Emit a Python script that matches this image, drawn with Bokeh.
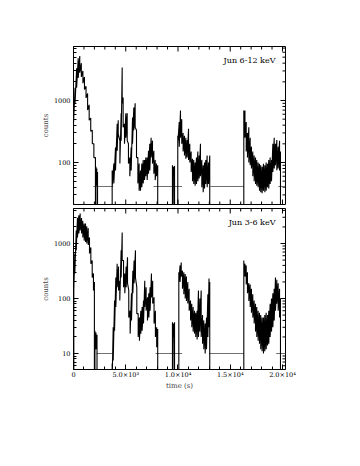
import math
from bokeh.plotting import figure
from bokeh.layouts import column
from bokeh.models import FixedTicker, Label, Range1d, PrintfTickFormatter
from bokeh.embed import file_html
from bokeh.resources import INLINE

# ---------------- data ----------------
X_MAX = 20290
BOTTOM = 1.0          # value below both y ranges (trace dropping to zero)

# upper panel: Jun 6-12 keV
hard_A_t  = [0, 150, 300, 450, 600, 750, 900, 1050, 1200, 1350, 1500, 1650, 1800, 1950, 2100]
hard_A_lo = [420, 900, 1600, 2300, 2800, 2400, 1900, 1500, 1100, 700, 480, 320, 200, 120, 75]
hard_A_hi = [620, 1600, 3300, 4800, 5200, 4000, 3000, 2400, 1700, 1300, 850, 520, 330, 200, 120]

hard_A2_t  = [2150, 2230, 2300]
hard_A2_lo = [45, 42, 44]
hard_A2_hi = [85, 80, 70]

hard_B_t  = [3700, 3860, 4020, 4180, 4280, 4440, 4560, 4660, 4750, 4880, 5010, 5140, 5260, 5390,
             5520, 5650, 5770, 5900, 6030, 6160, 6280, 6410, 6540, 6670, 6800, 6920, 7050, 7180,
             7300, 7430, 7560, 7690, 7820, 7940, 8060]
hard_B_lo = [40, 46, 74, 155, 290, 96, 225, 900, 370, 200, 250, 225, 96, 60,
             74, 200, 330, 370, 120, 46, 35, 35, 40, 46, 52, 60, 52, 66,
             74, 120, 96, 66, 52, 60, 55]
hard_B_hi = [74, 96, 175, 420, 480, 225, 620, 3400, 1120, 420, 620, 620, 200, 120,
             175, 530, 770, 900, 330, 120, 96, 74, 96, 110, 110, 120, 120, 155,
             200, 250, 225, 155, 110, 96, 90]

hard_S_t  = [9470, 9570, 9670]
hard_S_lo = [BOTTOM, 70, BOTTOM]
hard_S_hi = [90, 85, 88]

hard_C_t  = [9980, 10120, 10240, 10360, 10490, 10620, 10750, 10880, 11010, 11130, 11260, 11390,
             11510, 11640, 11770, 11900, 12030, 12150, 12280, 12410, 12540, 12660, 12790, 12920, 13040]
hard_C_lo = [200, 180, 250, 200, 150, 130, 115, 120, 110, 100, 70, 50,
             45, 42, 45, 50, 55, 60, 40, 33, 38, 45, 40, 45, 60]
hard_C_hi = [270, 450, 690, 500, 300, 270, 250, 230, 350, 200, 150, 115,
             110, 100, 120, 150, 130, 200, 110, 90, 100, 110, 130, 100, 130]

hard_D_t  = [16300, 16410, 16530, 16650, 16780, 16910, 17030, 17160, 17290, 17420, 17540, 17670,
             17800, 17920, 18050, 18180, 18310, 18440, 18570, 18690, 18820, 18950, 19080, 19210,
             19330, 19460, 19590, 19720, 19810]
hard_D_lo = [300, 250, 150, 120, 100, 90, 80, 60, 50, 45, 42, 40,
             35, 33, 32, 35, 33, 35, 40, 38, 45, 50, 70, 80,
             90, 75, 80, 74, 90]
hard_D_hi = [690, 690, 450, 300, 370, 250, 180, 150, 130, 120, 110, 100,
             95, 90, 85, 95, 90, 100, 95, 110, 120, 110, 200, 250,
             200, 230, 180, 225, 150]

hard_floor = 41
hard_floor_start = [1900, 7650, 13100, 19600]
hard_floor_end   = [3800, 10400, 16300, X_MAX]

# lower panel: Jun 3-6 keV
soft_A_t  = [30, 125, 260, 380, 510, 640, 770, 890, 1020, 1150, 1270, 1410, 1530, 1660, 1790, 1910, 2000]
soft_A_lo = [140, 285, 750, 1290, 1520, 1720, 1520, 1290, 1130, 1070, 1000, 940, 660, 430, 240, 140, 110]
soft_A_hi = [240, 660, 1720, 2950, 3250, 3500, 2900, 2600, 2300, 2300, 2050, 1900, 1290, 850, 490, 285, 200]

soft_A2_t  = [2050, 2150, 2250]
soft_A2_lo = [11, 12, 11]
soft_A2_hi = [26, 24, 22]

soft_B_t  = [3700, 3800, 3930, 4050, 4180, 4310, 4430, 4560, 4660, 4790, 4910, 5040, 5170, 5290,
             5420, 5550, 5680, 5800, 5930, 6060, 6190, 6310, 6440, 6570, 6700, 6820, 6950, 7080,
             7210, 7330, 7460, 7580, 7710, 7840, 7960, 8060]
soft_B_lo = [3.2, 7.5, 26, 70, 160, 140, 92, 240, 490, 160, 125, 160, 190, 45,
             23, 40, 125, 190, 240, 53, 20, 17, 23, 26, 35, 70, 60, 40,
             45, 60, 105, 81, 35, 20, 13, 12]
soft_B_hi = [6.6, 30, 92, 240, 430, 380, 210, 750, 1580, 490, 285, 380, 560, 140,
             60, 125, 320, 490, 750, 160, 53, 45, 60, 70, 92, 210, 160, 105,
             125, 160, 285, 210, 105, 60, 30, 28]

soft_S_t  = [9470, 9570, 9670]
soft_S_lo = [BOTTOM, 20, BOTTOM]
soft_S_hi = [37, 35, 37]

soft_C_t  = [10080, 10200, 10310, 10430, 10560, 10690, 10810, 10940, 11070, 11200, 11320, 11450,
             11580, 11700, 11830, 11960, 12090, 12220, 12350, 12470, 12600, 12730, 12860, 12970, 13040]
soft_C_lo = [200, 200, 250, 150, 120, 100, 90, 81, 60, 40, 30, 25,
             23, 20, 18, 20, 25, 20, 15, 12, 10, 12, 20, 30, 60]
soft_C_hi = [300, 400, 450, 320, 300, 280, 250, 200, 150, 92, 80, 70,
             60, 55, 60, 140, 100, 140, 50, 40, 35, 45, 120, 230, 200]

soft_D_t  = [16300, 16410, 16530, 16650, 16780, 16910, 17030, 17160, 17290, 17420, 17540, 17670,
             17800, 17920, 18050, 18180, 18310, 18440, 18570, 18690, 18820, 18950, 19080, 19210,
             19330, 19460, 19590, 19720, 19810]
soft_D_lo = [300, 250, 180, 125, 90, 70, 55, 45, 35, 25, 20, 17,
             15, 12, 11, 10, 11, 12, 14, 15, 20, 25, 30, 40,
             60, 80, 60, 45, 60]
soft_D_hi = [490, 430, 400, 300, 190, 180, 150, 120, 92, 80, 70, 60,
             55, 50, 45, 45, 50, 55, 50, 60, 80, 100, 125, 150,
             240, 220, 190, 150, 100]

soft_floor = 10
soft_floor_start = [2200, 7850, 13000, 19400]
soft_floor_end   = [3800, 10400, 16300, X_MAX]

x_ticks = [0, 5000, 10000, 15000, 20000]
x_minor = [1000, 2000, 3000, 4000, 6000, 7000, 8000, 9000, 11000, 12000, 13000, 14000,
           16000, 17000, 18000, 19000]
x_tick_labels = ["0", "5.0\u00d710\u00b3", "1.0\u00d710\u2074", "1.5\u00d710\u2074", "2.0\u00d710\u2074"]
y_ticks = [10, 100, 1000]
y_minor = [2, 3, 4, 5, 6, 7, 8, 9, 20, 30, 40, 50, 60, 70, 80, 90,
           200, 300, 400, 500, 600, 700, 800, 900, 2000, 3000, 4000, 5000, 6000, 7000, 8000, 9000]

FONT = "DejaVu Serif"
MAJ, MIN = 5, 3


def trace(t, lo, hi):
    xs = [t[0]]
    ys = [BOTTOM]
    for ti, l, h in zip(t, lo, hi):
        xs += [ti, ti]
        ys += [h, l]
    xs.append(t[-1])
    ys.append(BOTTOM)
    return xs, ys


def style_axis(ax):
    ax.major_tick_in = MAJ
    ax.major_tick_out = 0
    ax.minor_tick_in = MIN
    ax.minor_tick_out = 0
    ax.axis_line_color = "black"
    ax.major_tick_line_color = "black"
    ax.minor_tick_line_color = "black"
    ax.major_label_text_font = FONT
    ax.major_label_text_font_size = "6.5px"
    ax.major_label_text_color = "black"
    ax.major_label_standoff = 3


def frame_ticks(p, ymin, ymax, with_bottom):
    # inward ticks on the sides that carry no labelled axis
    yl = [v for v in y_ticks if ymin <= v <= ymax]
    ym = [v for v in y_minor if ymin <= v <= ymax]
    kw = dict(line_color="black", line_width=1, length_units="screen")
    p.ray(x=x_ticks, y=[ymax] * len(x_ticks), length=MAJ, angle=-math.pi / 2, **kw)
    p.ray(x=x_minor, y=[ymax] * len(x_minor), length=MIN, angle=-math.pi / 2, **kw)
    p.ray(x=[X_MAX] * len(yl), y=yl, length=MAJ, angle=math.pi, **kw)
    p.ray(x=[X_MAX] * len(ym), y=ym, length=MIN, angle=math.pi, **kw)
    if with_bottom:
        p.ray(x=x_ticks, y=[ymin] * len(x_ticks), length=MAJ, angle=math.pi / 2, **kw)
        p.ray(x=x_minor, y=[ymin] * len(x_minor), length=MIN, angle=math.pi / 2, **kw)


def panel(height, ymin, ymax, b_top, b_bottom, segs, floor, f_start, f_end, title, title_y, bottom_labels):
    p = figure(width=352, height=height, x_range=Range1d(0, X_MAX), y_range=Range1d(ymin, ymax),
               y_axis_type="log", output_backend="svg", toolbar_location=None,
               x_axis_location="below" if bottom_labels else None,
               min_border_left=73, min_border_right=67, min_border_top=b_top, min_border_bottom=b_bottom)
    p.grid.visible = False
    p.outline_line_color = "black"
    p.background_fill_color = "white"
    p.border_fill_color = "white"

    ly = p.yaxis[0]
    ly.ticker = FixedTicker(ticks=y_ticks, minor_ticks=y_minor)
    ly.formatter = PrintfTickFormatter(format="%d")
    style_axis(ly)
    ly.axis_label = "counts"
    ly.axis_label_text_font = FONT
    ly.axis_label_text_font_size = "7px"
    ly.axis_label_text_font_style = "normal"
    ly.axis_label_standoff = 1

    if bottom_labels:
        bx = p.xaxis[0]
        bx.ticker = FixedTicker(ticks=x_ticks, minor_ticks=x_minor)
        style_axis(bx)
        bx.major_label_standoff = 1
        bx.major_label_overrides = dict(zip(x_ticks, x_tick_labels))
        bx.axis_label = "time (s)"
        bx.axis_label_text_font = FONT
        bx.axis_label_text_font_size = "7px"
        bx.axis_label_text_font_style = "normal"
        bx.axis_label_standoff = 0

    frame_ticks(p, ymin, ymax, not bottom_labels)

    p.segment(x0=f_start, x1=f_end, y0=[floor] * len(f_start), y1=[floor] * len(f_start),
              line_color="#707070", line_width=1)

    xs, ys = [], []
    for t, lo, hi in segs:
        a, b = trace(t, lo, hi)
        xs.append(a)
        ys.append(b)
    p.multi_line(xs=xs, ys=ys, line_color="black", line_width=1.1)

    p.add_layout(Label(x=19330, y=title_y, text=title, text_align="right", text_baseline="middle",
                       text_font=FONT, text_font_size="8px", text_color="black"))
    return p


top = panel(208, 21.0, 7430, 46, 4,
            [(hard_A_t, hard_A_lo, hard_A_hi), (hard_A2_t, hard_A2_lo, hard_A2_hi),
             (hard_B_t, hard_B_lo, hard_B_hi), (hard_S_t, hard_S_lo, hard_S_hi),
             (hard_C_t, hard_C_lo, hard_C_hi), (hard_D_t, hard_D_lo, hard_D_hi)],
            hard_floor, hard_floor_start, hard_floor_end, "Jun 6-12 keV", 4400, False)

bot = panel(201, 5.12, 4330, 0, 40,
            [(soft_A_t, soft_A_lo, soft_A_hi), (soft_A2_t, soft_A2_lo, soft_A2_hi),
             (soft_B_t, soft_B_lo, soft_B_hi), (soft_S_t, soft_S_lo, soft_S_hi),
             (soft_C_t, soft_C_lo, soft_C_hi), (soft_D_t, soft_D_lo, soft_D_hi)],
            soft_floor, soft_floor_start, soft_floor_end, "Jun 3-6 keV", 2400, True)

layout = column(top, bot, spacing=0)
open("out.html", "w").write(file_html(layout, INLINE))
